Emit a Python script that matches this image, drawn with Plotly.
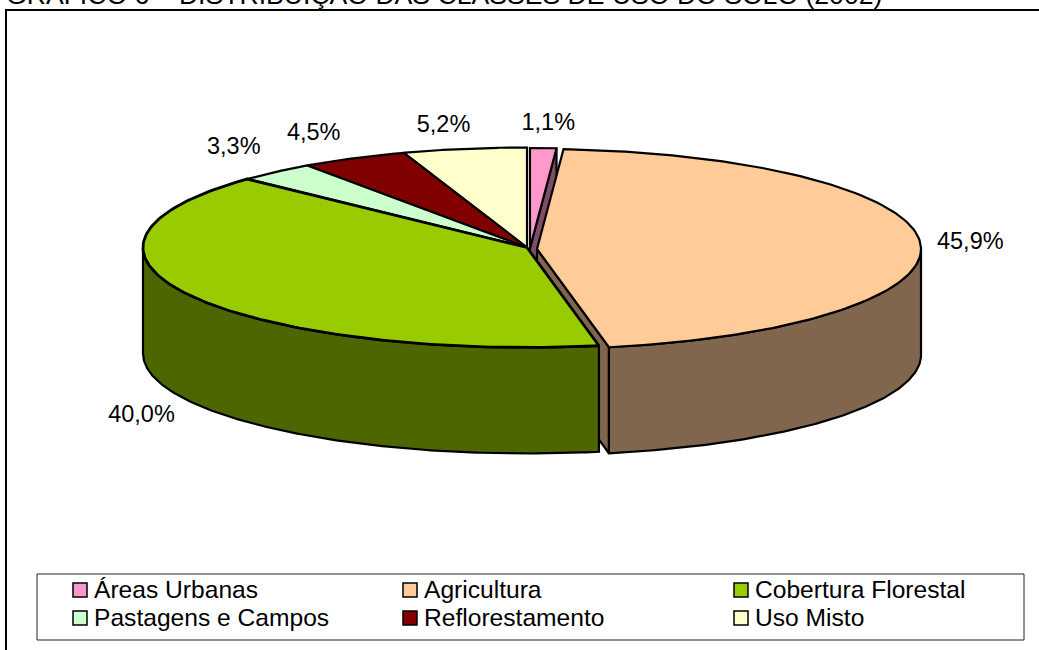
import numpy as np
import plotly.graph_objects as go

categories = ["Áreas Urbanas", "Agricultura", "Cobertura Florestal",
              "Pastagens e Campos", "Reflorestamento", "Uso Misto"]
values = [1.1, 45.9, 40.0, 3.3, 4.5, 5.2]
title_text = "GRÁFICO 6 – DISTRIBUIÇÃO DAS CLASSES DE USO DO SOLO (2002)"

top_colors = ["#FF99CC", "#FFCC99", "#99CC00", "#CCFFCC", "#800000", "#FFFFCC"]
side_colors = ["#804D66", "#80664D", "#4D6600", "#668066", "#400000", "#808066"]
centers = [(530, 248), (537, 249), (527, 247.5), (527, 247.5), (527, 247.5), (527, 247.5)]
label_offsets = [(5, -24), (50, 0), (-49, 120), (-42, -24), (-40, -24), (-21, -23)]
legend_cols = [80, 410, 741]
legend_rows = [590, 618]
RX, RY, DEPTH = 384, 100, 106
FONT = "Liberation Sans, Arial, sans-serif"

cum = np.concatenate([[0], np.cumsum(values)]) / sum(values) * 2 * np.pi


def rim(c, t):
    return c[0] + RX * np.sin(t), c[1] - RY * np.cos(t)


def top_face(i):
    t = np.linspace(cum[i], cum[i + 1], 160)
    x, y = rim(centers[i], t)
    return [centers[i][0], *x, centers[i][0]], [centers[i][1], *y, centers[i][1]]


def outer_wall(i, t0, t1):
    t = np.linspace(t0, t1, 160)
    x, y = rim(centers[i], t)
    return [*x, *x[::-1], x[0]], [*y, *(y[::-1] + DEPTH), y[0]]


def cut_wall(i, t):
    c = centers[i]
    x, y = rim(c, t)
    return [c[0], x, x, c[0], c[0]], [c[1], y, y + DEPTH, c[1] + DEPTH, c[1]]


fig = go.Figure()


def poly(xy, color, width=2.2):
    fig.add_trace(go.Scatter(x=xy[0], y=xy[1], mode="lines", fill="toself", fillcolor=color,
                             line=dict(color="black", width=width), showlegend=False,
                             hoverinfo="skip"))


# back slices
poly(cut_wall(0, cum[1]), side_colors[0])
poly(top_face(0), top_colors[0])
for i in (5, 4, 3):
    poly(top_face(i), top_colors[i])
# agriculture cut face, walls and top
poly(cut_wall(1, cum[2]), side_colors[1])
poly(outer_wall(1, np.pi / 2, cum[2]), side_colors[1])
poly(top_face(1), top_colors[1])
# forest
poly(outer_wall(2, cum[2], 1.5 * np.pi), side_colors[2])
poly(top_face(2), top_colors[2], 2.8)

# data labels
lx, ly, lt = [], [], []
for i, v in enumerate(values):
    x, y = rim(centers[i], (cum[i] + cum[i + 1]) / 2)
    lx.append(x + label_offsets[i][0])
    ly.append(y + label_offsets[i][1])
    lt.append(f"{v:.1f}%".replace(".", ","))
fig.add_trace(go.Scatter(x=lx, y=ly, text=lt, mode="text", showlegend=False, hoverinfo="skip",
                         textposition="middle center",
                         textfont=dict(family=FONT, size=23.5, color="black")))

# legend entries
for k, (name, color) in enumerate(zip(categories, top_colors)):
    col, row = legend_cols[k % 3], legend_rows[k // 3]
    fig.add_trace(go.Scatter(x=[col], y=[row], mode="markers", showlegend=False, hoverinfo="skip",
                             marker=dict(symbol="square", size=14, color=color,
                                         line=dict(color="black", width=1.5))))
    fig.add_trace(go.Scatter(x=[col + 14], y=[row + 2], text=[name], mode="text",
                             textposition="middle right", showlegend=False, hoverinfo="skip",
                             textfont=dict(family=FONT, size=24.6, color="black")))

fig.update_layout(
    width=1039, height=650, margin=dict(l=0, r=0, t=0, b=0), showlegend=False,
    paper_bgcolor="white", plot_bgcolor="white",
    xaxis=dict(range=[0, 1039], visible=False, fixedrange=True),
    yaxis=dict(range=[650, 0], visible=False, fixedrange=True),
    title=dict(text=title_text, x=6 / 1039, xanchor="left", y=1 - 4 / 650, yanchor="bottom",
               yref="container", font=dict(family=FONT, size=26.6, color="black")),
    shapes=[
        dict(type="rect", xref="x", yref="y", x0=6, x1=1100, y0=10, y1=700,
             line=dict(color="black", width=2), layer="below"),
        dict(type="rect", xref="x", yref="y", x0=37, x1=1024, y0=574, y1=640,
             line=dict(color="#222222", width=1), layer="below"),
    ],
)

fig.write_html("out.html", config={"displayModeBar": False},
               post_script="document.body.style.margin='0';document.body.style.overflow='hidden';")
